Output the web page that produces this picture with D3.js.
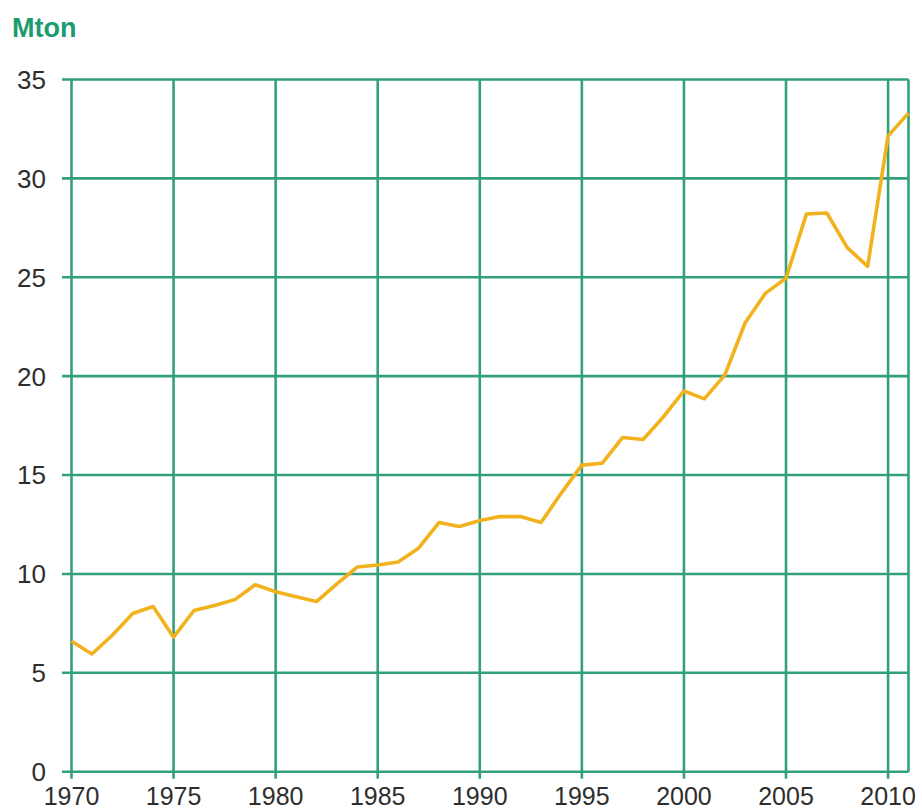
<!DOCTYPE html>
<html><head><meta charset="utf-8">
<script src="https://cdn.jsdelivr.net/npm/d3@7"></script>
<style>body{margin:0;background:#fff}svg{display:block}</style>
</head><body>
<svg id="c" width="922" height="812"></svg>
<script>
const years = d3.range(1970, 2012);
const values = [6.6, 5.95, 6.9, 8.0, 8.35, 6.8, 8.15, 8.4, 8.7, 9.45,
  9.1, 8.85, 8.6, 9.5, 10.35, 10.45, 10.6, 11.3, 12.6, 12.4,
  12.7, 12.9, 12.9, 12.6, 14.1, 15.5, 15.6, 16.9, 16.8, 17.95,
  19.25, 18.85, 20.05, 22.7, 24.2, 24.95, 28.2, 28.25, 26.5, 25.55,
  32.15, 33.3];
const yTicks = [0, 5, 10, 15, 20, 25, 30, 35];
const xTicks = [1970, 1975, 1980, 1985, 1990, 1995, 2000, 2005, 2010];
const yLabel = "Mton";

const svg = d3.select("#c");
const x = d3.scaleLinear().domain([1970, 2011]).range([71.5, 908.5]);
const y = d3.scaleLinear().domain([0, 35]).range([771.7, 79.5]);
const grid = "#33a07c";
const font = "'Liberation Sans', Arial, sans-serif";

// horizontal gridlines
svg.append("g").selectAll("line").data(yTicks).join("line")
  .attr("x1", 62).attr("x2", x(2011))
  .attr("y1", d => y(d)).attr("y2", d => y(d))
  .attr("stroke", grid).attr("stroke-width", 2.6);
// vertical gridlines
svg.append("g").selectAll("line").data(xTicks).join("line")
  .attr("x1", d => x(d)).attr("x2", d => x(d))
  .attr("y1", y(35)).attr("y2", y(0) + 7)
  .attr("stroke", grid).attr("stroke-width", 2.6);
// right border
svg.append("line").attr("x1", x(2011)).attr("x2", x(2011))
  .attr("y1", y(35)).attr("y2", y(0))
  .attr("stroke", grid).attr("stroke-width", 2.6);

// y labels
svg.append("g").selectAll("text").data(yTicks).join("text")
  .attr("x", 46).attr("y", d => y(d)).attr("dy", "0.36em")
  .attr("text-anchor", "end").attr("font-family", font)
  .attr("font-size", 26).attr("fill", "#2e2e2e").text(d => d);
// x labels
svg.append("g").selectAll("text").data(xTicks).join("text")
  .attr("x", d => x(d)).attr("y", 805)
  .attr("text-anchor", "middle").attr("font-family", font)
  .attr("font-size", 25).attr("fill", "#2e2e2e").text(d => d);

svg.append("text").attr("x", 12).attr("y", 37)
  .attr("font-family", font).attr("font-weight", "bold")
  .attr("font-size", 27).attr("fill", "#1a9c6e").text(yLabel);

const line = d3.line().x((d, i) => x(years[i])).y(d => y(d));
svg.append("path").datum(values).attr("d", line)
  .attr("fill", "none").attr("stroke", "#f2b21e")
  .attr("stroke-width", 3.6).attr("stroke-linejoin", "round");
</script>
</body></html>
